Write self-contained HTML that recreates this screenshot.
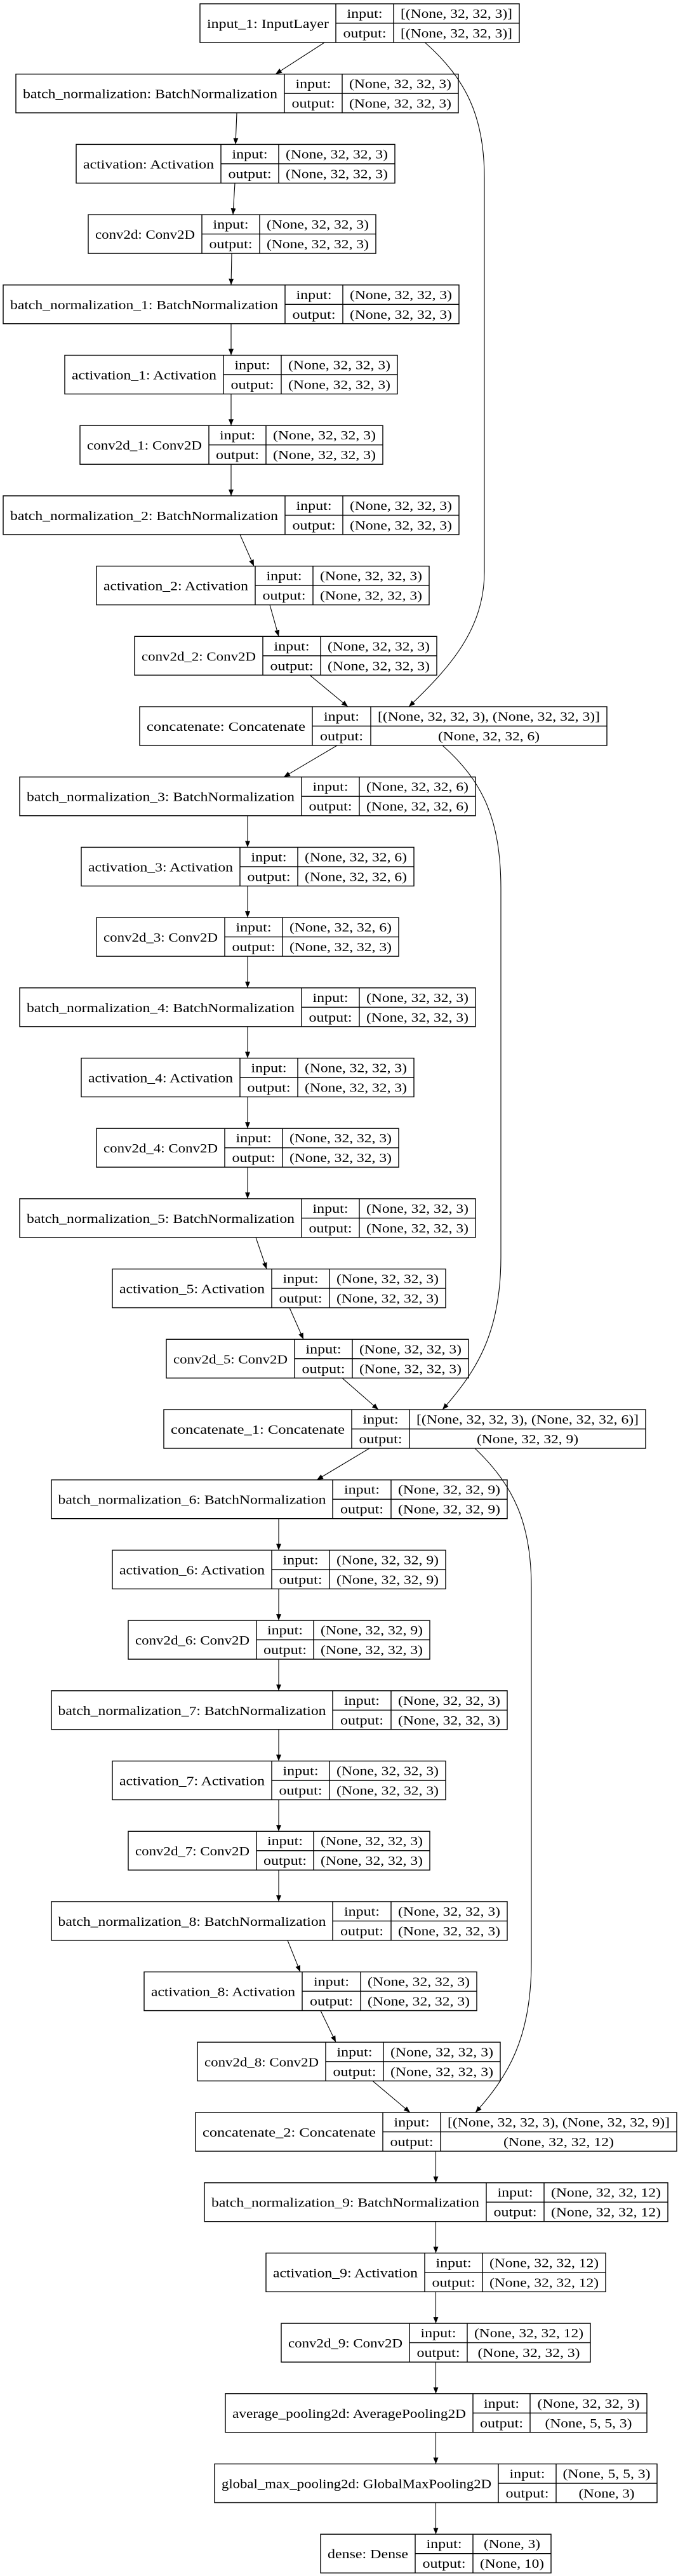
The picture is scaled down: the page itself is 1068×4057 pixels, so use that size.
<!DOCTYPE html>
<html><head><meta charset="utf-8"><style>
html,body{margin:0;padding:0;background:#fff;}
svg{display:block;}
text{font-family:"Liberation Serif",serif;font-size:20px;fill:#000;text-anchor:middle;transform:translateY(1px);}
.b{fill:none;stroke:#000;stroke-width:1.4;}
.e{fill:none;stroke:#000;stroke-width:1.1;marker-end:url(#a);}
</style></head><body>
<svg width="1068" height="4057" viewBox="0 0 1068 4057" xmlns="http://www.w3.org/2000/svg">
<defs><marker id="a" markerUnits="userSpaceOnUse" markerWidth="10" markerHeight="8" refX="10" refY="4" orient="auto"><path d="M0,0 L10,4 L0,8 z" fill="#000"/></marker></defs>
<rect width="1068" height="4057" fill="#fff"/>

<line class="e" x1="511" y1="67" x2="434" y2="116.7"/>
<line class="e" x1="373" y1="177.7" x2="371" y2="227.4"/>
<line class="e" x1="370" y1="288.4" x2="367" y2="338.1"/>
<line class="e" x1="365" y1="399.1" x2="364" y2="448.8"/>
<line class="e" x1="364" y1="509.8" x2="364" y2="559.5"/>
<line class="e" x1="364" y1="620.5" x2="364" y2="670.2"/>
<line class="e" x1="364" y1="731.2" x2="364" y2="780.9"/>
<line class="e" x1="378" y1="841.9" x2="400" y2="891.6"/>
<line class="e" x1="425" y1="952.6" x2="439" y2="1002.3"/>
<line class="e" x1="488" y1="1063.3" x2="548" y2="1113"/>
<path class="e" d="M669.5,67 C735,125 763,185 763,280 L763,900 C763,990 710,1050 644,1113"/>
<line class="e" x1="531" y1="1174" x2="447" y2="1223.7"/>
<path class="e" d="M697,1174 C760,1230 789,1290 789,1400 L789,1980 C789,2100 750,2160 697,2220"/>
<line class="e" x1="390" y1="1284.7" x2="390" y2="1334.4"/>
<line class="e" x1="390" y1="1395.4" x2="390" y2="1445.1"/>
<line class="e" x1="390" y1="1506.1" x2="390" y2="1555.8"/>
<line class="e" x1="390" y1="1616.8" x2="390" y2="1666.5"/>
<line class="e" x1="390" y1="1727.5" x2="390" y2="1777.2"/>
<line class="e" x1="390" y1="1838.2" x2="390" y2="1887.9"/>
<line class="e" x1="403" y1="1948.9" x2="420" y2="1998.6"/>
<line class="e" x1="456" y1="2059.6" x2="478" y2="2109.3"/>
<line class="e" x1="539" y1="2170.3" x2="596" y2="2220"/>
<line class="e" x1="582" y1="2281" x2="499" y2="2330.7"/>
<path class="e" d="M748,2281 C810,2340 837,2400 837,2500 L837,3090 C837,3210 800,3270 749,3327"/>
<line class="e" x1="439" y1="2391.7" x2="439" y2="2441.4"/>
<line class="e" x1="439" y1="2502.4" x2="439" y2="2552.1"/>
<line class="e" x1="439" y1="2613.1" x2="439" y2="2662.8"/>
<line class="e" x1="439" y1="2723.8" x2="439" y2="2773.5"/>
<line class="e" x1="439" y1="2834.5" x2="439" y2="2884.2"/>
<line class="e" x1="439" y1="2945.2" x2="439" y2="2994.9"/>
<line class="e" x1="453" y1="3055.9" x2="473" y2="3105.6"/>
<line class="e" x1="505" y1="3166.6" x2="529" y2="3216.3"/>
<line class="e" x1="587" y1="3277.3" x2="646" y2="3327"/>
<line class="e" x1="686.5" y1="3388" x2="686.5" y2="3437.7"/>
<line class="e" x1="686.5" y1="3498.7" x2="686.5" y2="3548.4"/>
<line class="e" x1="686.5" y1="3609.4" x2="686.5" y2="3659.1"/>
<line class="e" x1="686.5" y1="3720.1" x2="686.5" y2="3769.8"/>
<line class="e" x1="686.5" y1="3830.8" x2="686.5" y2="3880.5"/>
<line class="e" x1="686.5" y1="3941.5" x2="686.5" y2="3991.2"/>

<g transform="translate(0,6)"><rect class="b" x="315" y="0" width="503" height="61"/><line class="b" x1="529" y1="0" x2="529" y2="61"/><line class="b" x1="620" y1="0" x2="620" y2="61"/><line class="b" x1="529" y1="30.5" x2="818" y2="30.5"/>
<text x="422" y="37" textLength="192" lengthAdjust="spacingAndGlyphs">input_1: InputLayer</text><text x="574.5" y="21" textLength="56" lengthAdjust="spacingAndGlyphs">input:</text><text x="574.5" y="52" textLength="68" lengthAdjust="spacingAndGlyphs">output:</text><text x="719" y="21" textLength="176" lengthAdjust="spacingAndGlyphs">[(None, 32, 32, 3)]</text><text x="719" y="52" textLength="176" lengthAdjust="spacingAndGlyphs">[(None, 32, 32, 3)]</text></g>

<g transform="translate(0,116.7)"><rect class="b" x="25" y="0" width="697" height="61"/><line class="b" x1="448" y1="0" x2="448" y2="61"/><line class="b" x1="539" y1="0" x2="539" y2="61"/><line class="b" x1="448" y1="30.5" x2="722" y2="30.5"/>
<text x="236.5" y="37" textLength="401" lengthAdjust="spacingAndGlyphs">batch_normalization: BatchNormalization</text><text x="493.5" y="21" textLength="56" lengthAdjust="spacingAndGlyphs">input:</text><text x="493.5" y="52" textLength="68" lengthAdjust="spacingAndGlyphs">output:</text><text x="630.5" y="21" textLength="161" lengthAdjust="spacingAndGlyphs">(None, 32, 32, 3)</text><text x="630.5" y="52" textLength="161" lengthAdjust="spacingAndGlyphs">(None, 32, 32, 3)</text></g>

<g transform="translate(0,227.4)"><rect class="b" x="120" y="0" width="502" height="61"/><line class="b" x1="348" y1="0" x2="348" y2="61"/><line class="b" x1="439" y1="0" x2="439" y2="61"/><line class="b" x1="348" y1="30.5" x2="622" y2="30.5"/>
<text x="234" y="37" textLength="206" lengthAdjust="spacingAndGlyphs">activation: Activation</text><text x="393.5" y="21" textLength="56" lengthAdjust="spacingAndGlyphs">input:</text><text x="393.5" y="52" textLength="68" lengthAdjust="spacingAndGlyphs">output:</text><text x="530.5" y="21" textLength="161" lengthAdjust="spacingAndGlyphs">(None, 32, 32, 3)</text><text x="530.5" y="52" textLength="161" lengthAdjust="spacingAndGlyphs">(None, 32, 32, 3)</text></g>

<g transform="translate(0,338.1)"><rect class="b" x="139" y="0" width="453" height="61"/><line class="b" x1="318" y1="0" x2="318" y2="61"/><line class="b" x1="409" y1="0" x2="409" y2="61"/><line class="b" x1="318" y1="30.5" x2="592" y2="30.5"/>
<text x="228.5" y="37" textLength="157" lengthAdjust="spacingAndGlyphs">conv2d: Conv2D</text><text x="363.5" y="21" textLength="56" lengthAdjust="spacingAndGlyphs">input:</text><text x="363.5" y="52" textLength="68" lengthAdjust="spacingAndGlyphs">output:</text><text x="500.5" y="21" textLength="161" lengthAdjust="spacingAndGlyphs">(None, 32, 32, 3)</text><text x="500.5" y="52" textLength="161" lengthAdjust="spacingAndGlyphs">(None, 32, 32, 3)</text></g>

<g transform="translate(0,448.8)"><rect class="b" x="5" y="0" width="718" height="61"/><line class="b" x1="449" y1="0" x2="449" y2="61"/><line class="b" x1="540" y1="0" x2="540" y2="61"/><line class="b" x1="449" y1="30.5" x2="723" y2="30.5"/>
<text x="227" y="37" textLength="422" lengthAdjust="spacingAndGlyphs">batch_normalization_1: BatchNormalization</text><text x="494.5" y="21" textLength="56" lengthAdjust="spacingAndGlyphs">input:</text><text x="494.5" y="52" textLength="68" lengthAdjust="spacingAndGlyphs">output:</text><text x="631.5" y="21" textLength="161" lengthAdjust="spacingAndGlyphs">(None, 32, 32, 3)</text><text x="631.5" y="52" textLength="161" lengthAdjust="spacingAndGlyphs">(None, 32, 32, 3)</text></g>

<g transform="translate(0,559.5)"><rect class="b" x="102" y="0" width="524" height="61"/><line class="b" x1="352" y1="0" x2="352" y2="61"/><line class="b" x1="443" y1="0" x2="443" y2="61"/><line class="b" x1="352" y1="30.5" x2="626" y2="30.5"/>
<text x="227" y="37" textLength="228" lengthAdjust="spacingAndGlyphs">activation_1: Activation</text><text x="397.5" y="21" textLength="56" lengthAdjust="spacingAndGlyphs">input:</text><text x="397.5" y="52" textLength="68" lengthAdjust="spacingAndGlyphs">output:</text><text x="534.5" y="21" textLength="161" lengthAdjust="spacingAndGlyphs">(None, 32, 32, 3)</text><text x="534.5" y="52" textLength="161" lengthAdjust="spacingAndGlyphs">(None, 32, 32, 3)</text></g>

<g transform="translate(0,670.2)"><rect class="b" x="126" y="0" width="477" height="61"/><line class="b" x1="329" y1="0" x2="329" y2="61"/><line class="b" x1="419" y1="0" x2="419" y2="61"/><line class="b" x1="329" y1="30.5" x2="603" y2="30.5"/>
<text x="227.5" y="37" textLength="181" lengthAdjust="spacingAndGlyphs">conv2d_1: Conv2D</text><text x="374" y="21" textLength="56" lengthAdjust="spacingAndGlyphs">input:</text><text x="374" y="52" textLength="68" lengthAdjust="spacingAndGlyphs">output:</text><text x="511" y="21" textLength="162" lengthAdjust="spacingAndGlyphs">(None, 32, 32, 3)</text><text x="511" y="52" textLength="162" lengthAdjust="spacingAndGlyphs">(None, 32, 32, 3)</text></g>

<g transform="translate(0,780.9)"><rect class="b" x="5" y="0" width="718" height="61"/><line class="b" x1="449" y1="0" x2="449" y2="61"/><line class="b" x1="540" y1="0" x2="540" y2="61"/><line class="b" x1="449" y1="30.5" x2="723" y2="30.5"/>
<text x="227" y="37" textLength="422" lengthAdjust="spacingAndGlyphs">batch_normalization_2: BatchNormalization</text><text x="494.5" y="21" textLength="56" lengthAdjust="spacingAndGlyphs">input:</text><text x="494.5" y="52" textLength="68" lengthAdjust="spacingAndGlyphs">output:</text><text x="631.5" y="21" textLength="161" lengthAdjust="spacingAndGlyphs">(None, 32, 32, 3)</text><text x="631.5" y="52" textLength="161" lengthAdjust="spacingAndGlyphs">(None, 32, 32, 3)</text></g>

<g transform="translate(0,891.6)"><rect class="b" x="152" y="0" width="524" height="61"/><line class="b" x1="402" y1="0" x2="402" y2="61"/><line class="b" x1="493" y1="0" x2="493" y2="61"/><line class="b" x1="402" y1="30.5" x2="676" y2="30.5"/>
<text x="277" y="37" textLength="228" lengthAdjust="spacingAndGlyphs">activation_2: Activation</text><text x="447.5" y="21" textLength="56" lengthAdjust="spacingAndGlyphs">input:</text><text x="447.5" y="52" textLength="68" lengthAdjust="spacingAndGlyphs">output:</text><text x="584.5" y="21" textLength="161" lengthAdjust="spacingAndGlyphs">(None, 32, 32, 3)</text><text x="584.5" y="52" textLength="161" lengthAdjust="spacingAndGlyphs">(None, 32, 32, 3)</text></g>

<g transform="translate(0,1002.3)"><rect class="b" x="212" y="0" width="476" height="61"/><line class="b" x1="414" y1="0" x2="414" y2="61"/><line class="b" x1="505" y1="0" x2="505" y2="61"/><line class="b" x1="414" y1="30.5" x2="688" y2="30.5"/>
<text x="313" y="37" textLength="180" lengthAdjust="spacingAndGlyphs">conv2d_2: Conv2D</text><text x="459.5" y="21" textLength="56" lengthAdjust="spacingAndGlyphs">input:</text><text x="459.5" y="52" textLength="68" lengthAdjust="spacingAndGlyphs">output:</text><text x="596.5" y="21" textLength="161" lengthAdjust="spacingAndGlyphs">(None, 32, 32, 3)</text><text x="596.5" y="52" textLength="161" lengthAdjust="spacingAndGlyphs">(None, 32, 32, 3)</text></g>

<g transform="translate(0,1113)"><rect class="b" x="220" y="0" width="736" height="61"/><line class="b" x1="492" y1="0" x2="492" y2="61"/><line class="b" x1="584" y1="0" x2="584" y2="61"/><line class="b" x1="492" y1="30.5" x2="956" y2="30.5"/>
<text x="356" y="37" textLength="250" lengthAdjust="spacingAndGlyphs">concatenate: Concatenate</text><text x="538" y="21" textLength="56" lengthAdjust="spacingAndGlyphs">input:</text><text x="538" y="52" textLength="68" lengthAdjust="spacingAndGlyphs">output:</text><text x="770" y="21" textLength="350" lengthAdjust="spacingAndGlyphs">[(None, 32, 32, 3), (None, 32, 32, 3)]</text><text x="770" y="52" textLength="160" lengthAdjust="spacingAndGlyphs">(None, 32, 32, 6)</text></g>

<g transform="translate(0,1223.7)"><rect class="b" x="31" y="0" width="718" height="61"/><line class="b" x1="475" y1="0" x2="475" y2="61"/><line class="b" x1="566" y1="0" x2="566" y2="61"/><line class="b" x1="475" y1="30.5" x2="749" y2="30.5"/>
<text x="253" y="37" textLength="422" lengthAdjust="spacingAndGlyphs">batch_normalization_3: BatchNormalization</text><text x="520.5" y="21" textLength="56" lengthAdjust="spacingAndGlyphs">input:</text><text x="520.5" y="52" textLength="68" lengthAdjust="spacingAndGlyphs">output:</text><text x="657.5" y="21" textLength="161" lengthAdjust="spacingAndGlyphs">(None, 32, 32, 6)</text><text x="657.5" y="52" textLength="161" lengthAdjust="spacingAndGlyphs">(None, 32, 32, 6)</text></g>

<g transform="translate(0,1334.4)"><rect class="b" x="128" y="0" width="524" height="61"/><line class="b" x1="378" y1="0" x2="378" y2="61"/><line class="b" x1="469" y1="0" x2="469" y2="61"/><line class="b" x1="378" y1="30.5" x2="652" y2="30.5"/>
<text x="253" y="37" textLength="228" lengthAdjust="spacingAndGlyphs">activation_3: Activation</text><text x="423.5" y="21" textLength="56" lengthAdjust="spacingAndGlyphs">input:</text><text x="423.5" y="52" textLength="68" lengthAdjust="spacingAndGlyphs">output:</text><text x="560.5" y="21" textLength="161" lengthAdjust="spacingAndGlyphs">(None, 32, 32, 6)</text><text x="560.5" y="52" textLength="161" lengthAdjust="spacingAndGlyphs">(None, 32, 32, 6)</text></g>

<g transform="translate(0,1445.1)"><rect class="b" x="152" y="0" width="476" height="61"/><line class="b" x1="354" y1="0" x2="354" y2="61"/><line class="b" x1="445" y1="0" x2="445" y2="61"/><line class="b" x1="354" y1="30.5" x2="628" y2="30.5"/>
<text x="253" y="37" textLength="180" lengthAdjust="spacingAndGlyphs">conv2d_3: Conv2D</text><text x="399.5" y="21" textLength="56" lengthAdjust="spacingAndGlyphs">input:</text><text x="399.5" y="52" textLength="68" lengthAdjust="spacingAndGlyphs">output:</text><text x="536.5" y="21" textLength="161" lengthAdjust="spacingAndGlyphs">(None, 32, 32, 6)</text><text x="536.5" y="52" textLength="161" lengthAdjust="spacingAndGlyphs">(None, 32, 32, 3)</text></g>

<g transform="translate(0,1555.8)"><rect class="b" x="31" y="0" width="718" height="61"/><line class="b" x1="475" y1="0" x2="475" y2="61"/><line class="b" x1="566" y1="0" x2="566" y2="61"/><line class="b" x1="475" y1="30.5" x2="749" y2="30.5"/>
<text x="253" y="37" textLength="422" lengthAdjust="spacingAndGlyphs">batch_normalization_4: BatchNormalization</text><text x="520.5" y="21" textLength="56" lengthAdjust="spacingAndGlyphs">input:</text><text x="520.5" y="52" textLength="68" lengthAdjust="spacingAndGlyphs">output:</text><text x="657.5" y="21" textLength="161" lengthAdjust="spacingAndGlyphs">(None, 32, 32, 3)</text><text x="657.5" y="52" textLength="161" lengthAdjust="spacingAndGlyphs">(None, 32, 32, 3)</text></g>

<g transform="translate(0,1666.5)"><rect class="b" x="128" y="0" width="524" height="61"/><line class="b" x1="378" y1="0" x2="378" y2="61"/><line class="b" x1="469" y1="0" x2="469" y2="61"/><line class="b" x1="378" y1="30.5" x2="652" y2="30.5"/>
<text x="253" y="37" textLength="228" lengthAdjust="spacingAndGlyphs">activation_4: Activation</text><text x="423.5" y="21" textLength="56" lengthAdjust="spacingAndGlyphs">input:</text><text x="423.5" y="52" textLength="68" lengthAdjust="spacingAndGlyphs">output:</text><text x="560.5" y="21" textLength="161" lengthAdjust="spacingAndGlyphs">(None, 32, 32, 3)</text><text x="560.5" y="52" textLength="161" lengthAdjust="spacingAndGlyphs">(None, 32, 32, 3)</text></g>

<g transform="translate(0,1777.2)"><rect class="b" x="152" y="0" width="476" height="61"/><line class="b" x1="354" y1="0" x2="354" y2="61"/><line class="b" x1="445" y1="0" x2="445" y2="61"/><line class="b" x1="354" y1="30.5" x2="628" y2="30.5"/>
<text x="253" y="37" textLength="180" lengthAdjust="spacingAndGlyphs">conv2d_4: Conv2D</text><text x="399.5" y="21" textLength="56" lengthAdjust="spacingAndGlyphs">input:</text><text x="399.5" y="52" textLength="68" lengthAdjust="spacingAndGlyphs">output:</text><text x="536.5" y="21" textLength="161" lengthAdjust="spacingAndGlyphs">(None, 32, 32, 3)</text><text x="536.5" y="52" textLength="161" lengthAdjust="spacingAndGlyphs">(None, 32, 32, 3)</text></g>

<g transform="translate(0,1887.9)"><rect class="b" x="31" y="0" width="718" height="61"/><line class="b" x1="475" y1="0" x2="475" y2="61"/><line class="b" x1="566" y1="0" x2="566" y2="61"/><line class="b" x1="475" y1="30.5" x2="749" y2="30.5"/>
<text x="253" y="37" textLength="422" lengthAdjust="spacingAndGlyphs">batch_normalization_5: BatchNormalization</text><text x="520.5" y="21" textLength="56" lengthAdjust="spacingAndGlyphs">input:</text><text x="520.5" y="52" textLength="68" lengthAdjust="spacingAndGlyphs">output:</text><text x="657.5" y="21" textLength="161" lengthAdjust="spacingAndGlyphs">(None, 32, 32, 3)</text><text x="657.5" y="52" textLength="161" lengthAdjust="spacingAndGlyphs">(None, 32, 32, 3)</text></g>

<g transform="translate(0,1998.6)"><rect class="b" x="177" y="0" width="525" height="61"/><line class="b" x1="428" y1="0" x2="428" y2="61"/><line class="b" x1="519" y1="0" x2="519" y2="61"/><line class="b" x1="428" y1="30.5" x2="702" y2="30.5"/>
<text x="302.5" y="37" textLength="229" lengthAdjust="spacingAndGlyphs">activation_5: Activation</text><text x="473.5" y="21" textLength="56" lengthAdjust="spacingAndGlyphs">input:</text><text x="473.5" y="52" textLength="68" lengthAdjust="spacingAndGlyphs">output:</text><text x="610.5" y="21" textLength="161" lengthAdjust="spacingAndGlyphs">(None, 32, 32, 3)</text><text x="610.5" y="52" textLength="161" lengthAdjust="spacingAndGlyphs">(None, 32, 32, 3)</text></g>

<g transform="translate(0,2109.3)"><rect class="b" x="262" y="0" width="476" height="61"/><line class="b" x1="464" y1="0" x2="464" y2="61"/><line class="b" x1="555" y1="0" x2="555" y2="61"/><line class="b" x1="464" y1="30.5" x2="738" y2="30.5"/>
<text x="363" y="37" textLength="180" lengthAdjust="spacingAndGlyphs">conv2d_5: Conv2D</text><text x="509.5" y="21" textLength="56" lengthAdjust="spacingAndGlyphs">input:</text><text x="509.5" y="52" textLength="68" lengthAdjust="spacingAndGlyphs">output:</text><text x="646.5" y="21" textLength="161" lengthAdjust="spacingAndGlyphs">(None, 32, 32, 3)</text><text x="646.5" y="52" textLength="161" lengthAdjust="spacingAndGlyphs">(None, 32, 32, 3)</text></g>

<g transform="translate(0,2220)"><rect class="b" x="258" y="0" width="759" height="61"/><line class="b" x1="554" y1="0" x2="554" y2="61"/><line class="b" x1="645" y1="0" x2="645" y2="61"/><line class="b" x1="554" y1="30.5" x2="1017" y2="30.5"/>
<text x="406" y="37" textLength="274" lengthAdjust="spacingAndGlyphs">concatenate_1: Concatenate</text><text x="599.5" y="21" textLength="56" lengthAdjust="spacingAndGlyphs">input:</text><text x="599.5" y="52" textLength="68" lengthAdjust="spacingAndGlyphs">output:</text><text x="831" y="21" textLength="350" lengthAdjust="spacingAndGlyphs">[(None, 32, 32, 3), (None, 32, 32, 6)]</text><text x="831" y="52" textLength="160" lengthAdjust="spacingAndGlyphs">(None, 32, 32, 9)</text></g>

<g transform="translate(0,2330.7)"><rect class="b" x="81" y="0" width="718" height="61"/><line class="b" x1="524" y1="0" x2="524" y2="61"/><line class="b" x1="616" y1="0" x2="616" y2="61"/><line class="b" x1="524" y1="30.5" x2="799" y2="30.5"/>
<text x="302.5" y="37" textLength="422" lengthAdjust="spacingAndGlyphs">batch_normalization_6: BatchNormalization</text><text x="570" y="21" textLength="56" lengthAdjust="spacingAndGlyphs">input:</text><text x="570" y="52" textLength="68" lengthAdjust="spacingAndGlyphs">output:</text><text x="707.5" y="21" textLength="161" lengthAdjust="spacingAndGlyphs">(None, 32, 32, 9)</text><text x="707.5" y="52" textLength="161" lengthAdjust="spacingAndGlyphs">(None, 32, 32, 9)</text></g>

<g transform="translate(0,2441.4)"><rect class="b" x="177" y="0" width="525" height="61"/><line class="b" x1="428" y1="0" x2="428" y2="61"/><line class="b" x1="519" y1="0" x2="519" y2="61"/><line class="b" x1="428" y1="30.5" x2="702" y2="30.5"/>
<text x="302.5" y="37" textLength="229" lengthAdjust="spacingAndGlyphs">activation_6: Activation</text><text x="473.5" y="21" textLength="56" lengthAdjust="spacingAndGlyphs">input:</text><text x="473.5" y="52" textLength="68" lengthAdjust="spacingAndGlyphs">output:</text><text x="610.5" y="21" textLength="161" lengthAdjust="spacingAndGlyphs">(None, 32, 32, 9)</text><text x="610.5" y="52" textLength="161" lengthAdjust="spacingAndGlyphs">(None, 32, 32, 9)</text></g>

<g transform="translate(0,2552.1)"><rect class="b" x="202" y="0" width="475" height="61"/><line class="b" x1="404" y1="0" x2="404" y2="61"/><line class="b" x1="494" y1="0" x2="494" y2="61"/><line class="b" x1="404" y1="30.5" x2="677" y2="30.5"/>
<text x="303" y="37" textLength="180" lengthAdjust="spacingAndGlyphs">conv2d_6: Conv2D</text><text x="449" y="21" textLength="56" lengthAdjust="spacingAndGlyphs">input:</text><text x="449" y="52" textLength="68" lengthAdjust="spacingAndGlyphs">output:</text><text x="585.5" y="21" textLength="161" lengthAdjust="spacingAndGlyphs">(None, 32, 32, 9)</text><text x="585.5" y="52" textLength="161" lengthAdjust="spacingAndGlyphs">(None, 32, 32, 3)</text></g>

<g transform="translate(0,2662.8)"><rect class="b" x="81" y="0" width="718" height="61"/><line class="b" x1="524" y1="0" x2="524" y2="61"/><line class="b" x1="616" y1="0" x2="616" y2="61"/><line class="b" x1="524" y1="30.5" x2="799" y2="30.5"/>
<text x="302.5" y="37" textLength="422" lengthAdjust="spacingAndGlyphs">batch_normalization_7: BatchNormalization</text><text x="570" y="21" textLength="56" lengthAdjust="spacingAndGlyphs">input:</text><text x="570" y="52" textLength="68" lengthAdjust="spacingAndGlyphs">output:</text><text x="707.5" y="21" textLength="161" lengthAdjust="spacingAndGlyphs">(None, 32, 32, 3)</text><text x="707.5" y="52" textLength="161" lengthAdjust="spacingAndGlyphs">(None, 32, 32, 3)</text></g>

<g transform="translate(0,2773.5)"><rect class="b" x="177" y="0" width="525" height="61"/><line class="b" x1="428" y1="0" x2="428" y2="61"/><line class="b" x1="519" y1="0" x2="519" y2="61"/><line class="b" x1="428" y1="30.5" x2="702" y2="30.5"/>
<text x="302.5" y="37" textLength="229" lengthAdjust="spacingAndGlyphs">activation_7: Activation</text><text x="473.5" y="21" textLength="56" lengthAdjust="spacingAndGlyphs">input:</text><text x="473.5" y="52" textLength="68" lengthAdjust="spacingAndGlyphs">output:</text><text x="610.5" y="21" textLength="161" lengthAdjust="spacingAndGlyphs">(None, 32, 32, 3)</text><text x="610.5" y="52" textLength="161" lengthAdjust="spacingAndGlyphs">(None, 32, 32, 3)</text></g>

<g transform="translate(0,2884.2)"><rect class="b" x="202" y="0" width="475" height="61"/><line class="b" x1="404" y1="0" x2="404" y2="61"/><line class="b" x1="494" y1="0" x2="494" y2="61"/><line class="b" x1="404" y1="30.5" x2="677" y2="30.5"/>
<text x="303" y="37" textLength="180" lengthAdjust="spacingAndGlyphs">conv2d_7: Conv2D</text><text x="449" y="21" textLength="56" lengthAdjust="spacingAndGlyphs">input:</text><text x="449" y="52" textLength="68" lengthAdjust="spacingAndGlyphs">output:</text><text x="585.5" y="21" textLength="161" lengthAdjust="spacingAndGlyphs">(None, 32, 32, 3)</text><text x="585.5" y="52" textLength="161" lengthAdjust="spacingAndGlyphs">(None, 32, 32, 3)</text></g>

<g transform="translate(0,2994.9)"><rect class="b" x="81" y="0" width="718" height="61"/><line class="b" x1="524" y1="0" x2="524" y2="61"/><line class="b" x1="616" y1="0" x2="616" y2="61"/><line class="b" x1="524" y1="30.5" x2="799" y2="30.5"/>
<text x="302.5" y="37" textLength="422" lengthAdjust="spacingAndGlyphs">batch_normalization_8: BatchNormalization</text><text x="570" y="21" textLength="56" lengthAdjust="spacingAndGlyphs">input:</text><text x="570" y="52" textLength="68" lengthAdjust="spacingAndGlyphs">output:</text><text x="707.5" y="21" textLength="161" lengthAdjust="spacingAndGlyphs">(None, 32, 32, 3)</text><text x="707.5" y="52" textLength="161" lengthAdjust="spacingAndGlyphs">(None, 32, 32, 3)</text></g>

<g transform="translate(0,3105.6)"><rect class="b" x="227" y="0" width="524" height="61"/><line class="b" x1="476" y1="0" x2="476" y2="61"/><line class="b" x1="568" y1="0" x2="568" y2="61"/><line class="b" x1="476" y1="30.5" x2="751" y2="30.5"/>
<text x="351.5" y="37" textLength="227" lengthAdjust="spacingAndGlyphs">activation_8: Activation</text><text x="522" y="21" textLength="56" lengthAdjust="spacingAndGlyphs">input:</text><text x="522" y="52" textLength="68" lengthAdjust="spacingAndGlyphs">output:</text><text x="659.5" y="21" textLength="161" lengthAdjust="spacingAndGlyphs">(None, 32, 32, 3)</text><text x="659.5" y="52" textLength="161" lengthAdjust="spacingAndGlyphs">(None, 32, 32, 3)</text></g>

<g transform="translate(0,3216.3)"><rect class="b" x="311" y="0" width="477" height="61"/><line class="b" x1="513" y1="0" x2="513" y2="61"/><line class="b" x1="604" y1="0" x2="604" y2="61"/><line class="b" x1="513" y1="30.5" x2="788" y2="30.5"/>
<text x="412" y="37" textLength="180" lengthAdjust="spacingAndGlyphs">conv2d_8: Conv2D</text><text x="558.5" y="21" textLength="56" lengthAdjust="spacingAndGlyphs">input:</text><text x="558.5" y="52" textLength="68" lengthAdjust="spacingAndGlyphs">output:</text><text x="696" y="21" textLength="162" lengthAdjust="spacingAndGlyphs">(None, 32, 32, 3)</text><text x="696" y="52" textLength="162" lengthAdjust="spacingAndGlyphs">(None, 32, 32, 3)</text></g>

<g transform="translate(0,3327)"><rect class="b" x="308" y="0" width="758" height="61"/><line class="b" x1="603" y1="0" x2="603" y2="61"/><line class="b" x1="694" y1="0" x2="694" y2="61"/><line class="b" x1="603" y1="30.5" x2="1066" y2="30.5"/>
<text x="455.5" y="37" textLength="273" lengthAdjust="spacingAndGlyphs">concatenate_2: Concatenate</text><text x="648.5" y="21" textLength="56" lengthAdjust="spacingAndGlyphs">input:</text><text x="648.5" y="52" textLength="68" lengthAdjust="spacingAndGlyphs">output:</text><text x="880" y="21" textLength="350" lengthAdjust="spacingAndGlyphs">[(None, 32, 32, 3), (None, 32, 32, 9)]</text><text x="880" y="52" textLength="174" lengthAdjust="spacingAndGlyphs">(None, 32, 32, 12)</text></g>

<g transform="translate(0,3437.7)"><rect class="b" x="322" y="0" width="730" height="61"/><line class="b" x1="766" y1="0" x2="766" y2="61"/><line class="b" x1="857" y1="0" x2="857" y2="61"/><line class="b" x1="766" y1="30.5" x2="1052" y2="30.5"/>
<text x="544" y="37" textLength="422" lengthAdjust="spacingAndGlyphs">batch_normalization_9: BatchNormalization</text><text x="811.5" y="21" textLength="56" lengthAdjust="spacingAndGlyphs">input:</text><text x="811.5" y="52" textLength="68" lengthAdjust="spacingAndGlyphs">output:</text><text x="954.5" y="21" textLength="173" lengthAdjust="spacingAndGlyphs">(None, 32, 32, 12)</text><text x="954.5" y="52" textLength="173" lengthAdjust="spacingAndGlyphs">(None, 32, 32, 12)</text></g>

<g transform="translate(0,3548.4)"><rect class="b" x="419" y="0" width="535" height="61"/><line class="b" x1="669" y1="0" x2="669" y2="61"/><line class="b" x1="760" y1="0" x2="760" y2="61"/><line class="b" x1="669" y1="30.5" x2="954" y2="30.5"/>
<text x="544" y="37" textLength="228" lengthAdjust="spacingAndGlyphs">activation_9: Activation</text><text x="714.5" y="21" textLength="56" lengthAdjust="spacingAndGlyphs">input:</text><text x="714.5" y="52" textLength="68" lengthAdjust="spacingAndGlyphs">output:</text><text x="857" y="21" textLength="172" lengthAdjust="spacingAndGlyphs">(None, 32, 32, 12)</text><text x="857" y="52" textLength="172" lengthAdjust="spacingAndGlyphs">(None, 32, 32, 12)</text></g>

<g transform="translate(0,3659.1)"><rect class="b" x="443" y="0" width="487" height="61"/><line class="b" x1="645" y1="0" x2="645" y2="61"/><line class="b" x1="736" y1="0" x2="736" y2="61"/><line class="b" x1="645" y1="30.5" x2="930" y2="30.5"/>
<text x="544" y="37" textLength="180" lengthAdjust="spacingAndGlyphs">conv2d_9: Conv2D</text><text x="690.5" y="21" textLength="56" lengthAdjust="spacingAndGlyphs">input:</text><text x="690.5" y="52" textLength="68" lengthAdjust="spacingAndGlyphs">output:</text><text x="833" y="21" textLength="172" lengthAdjust="spacingAndGlyphs">(None, 32, 32, 12)</text><text x="833" y="52" textLength="161" lengthAdjust="spacingAndGlyphs">(None, 32, 32, 3)</text></g>

<g transform="translate(0,3769.8)"><rect class="b" x="355" y="0" width="664" height="61"/><line class="b" x1="745" y1="0" x2="745" y2="61"/><line class="b" x1="835" y1="0" x2="835" y2="61"/><line class="b" x1="745" y1="30.5" x2="1019" y2="30.5"/>
<text x="550" y="37" textLength="368" lengthAdjust="spacingAndGlyphs">average_pooling2d: AveragePooling2D</text><text x="790" y="21" textLength="56" lengthAdjust="spacingAndGlyphs">input:</text><text x="790" y="52" textLength="68" lengthAdjust="spacingAndGlyphs">output:</text><text x="927" y="21" textLength="161" lengthAdjust="spacingAndGlyphs">(None, 32, 32, 3)</text><text x="927" y="52" textLength="137" lengthAdjust="spacingAndGlyphs">(None, 5, 5, 3)</text></g>

<g transform="translate(0,3880.5)"><rect class="b" x="338" y="0" width="697" height="61"/><line class="b" x1="785" y1="0" x2="785" y2="61"/><line class="b" x1="876" y1="0" x2="876" y2="61"/><line class="b" x1="785" y1="30.5" x2="1035" y2="30.5"/>
<text x="561.5" y="37" textLength="425" lengthAdjust="spacingAndGlyphs">global_max_pooling2d: GlobalMaxPooling2D</text><text x="830.5" y="21" textLength="56" lengthAdjust="spacingAndGlyphs">input:</text><text x="830.5" y="52" textLength="68" lengthAdjust="spacingAndGlyphs">output:</text><text x="955.5" y="21" textLength="138" lengthAdjust="spacingAndGlyphs">(None, 5, 5, 3)</text><text x="955.5" y="52" textLength="88" lengthAdjust="spacingAndGlyphs">(None, 3)</text></g>

<g transform="translate(0,3991.2)"><rect class="b" x="505" y="0" width="363" height="61"/><line class="b" x1="654" y1="0" x2="654" y2="61"/><line class="b" x1="745" y1="0" x2="745" y2="61"/><line class="b" x1="654" y1="30.5" x2="868" y2="30.5"/>
<text x="579.5" y="37" textLength="127" lengthAdjust="spacingAndGlyphs">dense: Dense</text><text x="699.5" y="21" textLength="56" lengthAdjust="spacingAndGlyphs">input:</text><text x="699.5" y="52" textLength="68" lengthAdjust="spacingAndGlyphs">output:</text><text x="806.5" y="21" textLength="89" lengthAdjust="spacingAndGlyphs">(None, 3)</text><text x="806.5" y="52" textLength="101" lengthAdjust="spacingAndGlyphs">(None, 10)</text></g>
</svg>
</body></html>
